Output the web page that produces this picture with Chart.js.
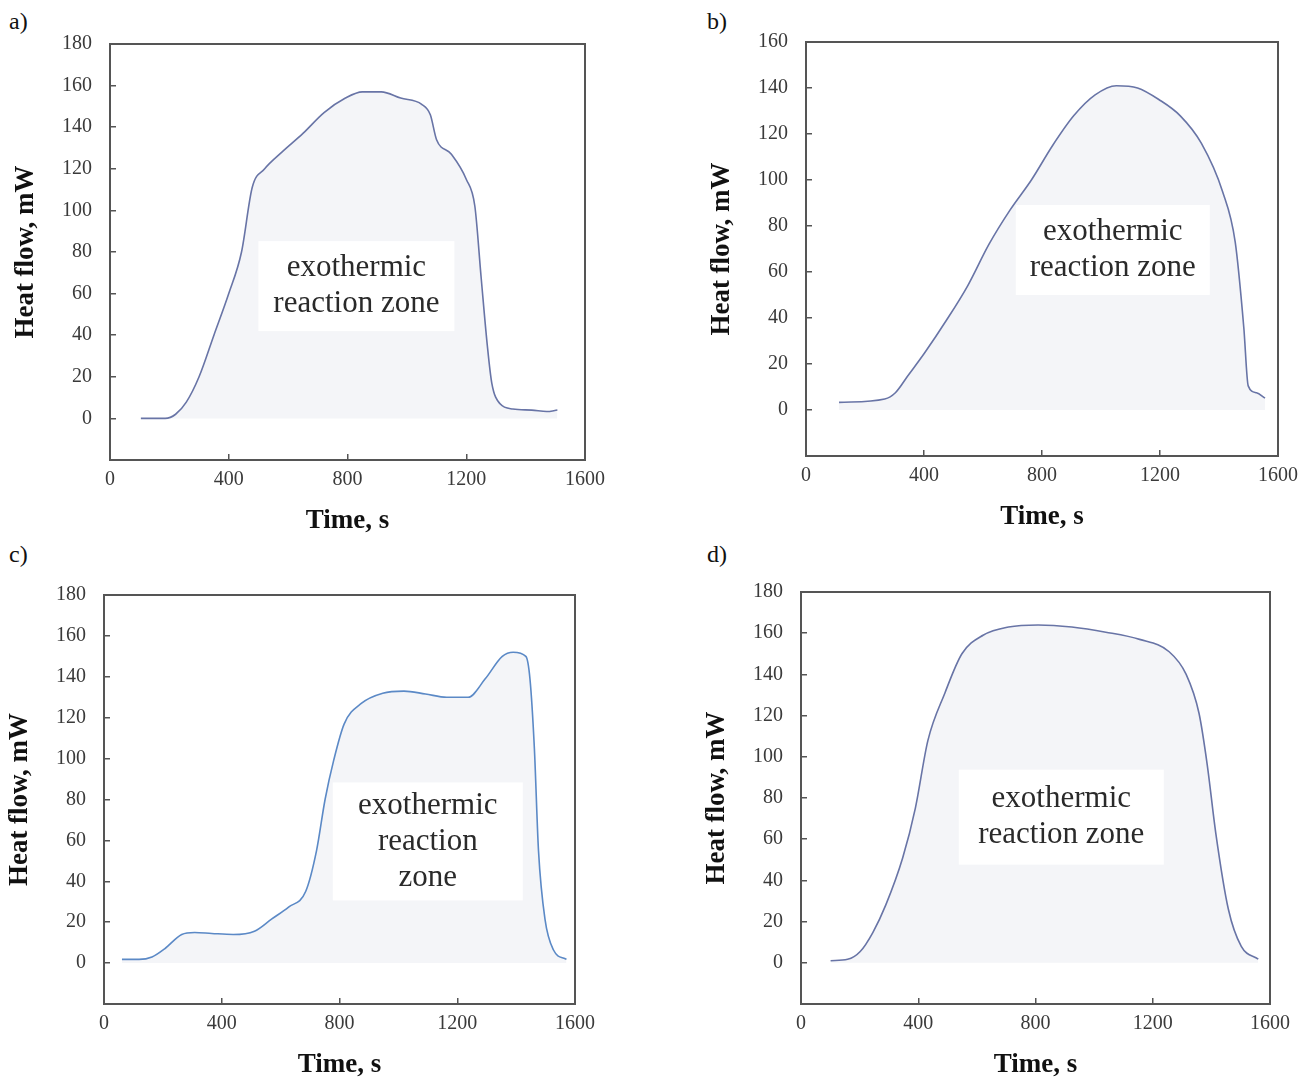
<!DOCTYPE html>
<html>
<head>
<meta charset="utf-8">
<script src="https://cdn.jsdelivr.net/npm/chart.js@4.4.1/dist/chart.umd.min.js"></script>
<style>
  body { margin: 0; background: #fff; width: 1311px; height: 1081px; position: relative; overflow: hidden;
         font-family: "Liberation Serif", "Times New Roman", serif; }
  canvas { position: absolute; }
  .tag { position: absolute; font-size: 24px; color: #111; line-height: 24px; }
</style>
</head>
<body>
<div class="tag" style="left:9px;top:9px">a)</div>
<div class="tag" style="left:707px;top:9px">b)</div>
<div class="tag" style="left:9px;top:542px">c)</div>
<div class="tag" style="left:707px;top:542px">d)</div>
<canvas id="chartA"></canvas>
<canvas id="chartB"></canvas>
<canvas id="chartC"></canvas>
<canvas id="chartD"></canvas>
<script>
// valores (tempo em s, fluxo de calor em mW)
const xTicks = [0, 400, 800, 1200, 1600];
const yTicks180 = [0, 20, 40, 60, 80, 100, 120, 140, 160, 180];
const yTicks160 = [0, 20, 40, 60, 80, 100, 120, 140, 160];

const aTime = [104, 186, 221, 257, 300, 350, 400, 443, 479, 521, 579, 650, 721, 793, 850, 914, 979, 1050, 1079, 1100, 1150, 1200, 1229, 1250, 1271, 1286, 1314, 1357, 1421, 1471, 1507];
const aHeat = [0, 0, 2, 7.8, 20, 40, 60, 80, 111, 120, 128, 137, 147, 154, 157, 157, 154, 151, 146, 134, 127, 115, 102, 68, 35, 17, 7, 4.5, 4, 3.3, 4];

const bTime = [112, 267, 303, 346, 403, 476, 548, 620, 692, 764, 836, 908, 980, 1052, 1124, 1196, 1268, 1340, 1412, 1455, 1484, 1499, 1527, 1556];
const bHeat = [3.3, 4.8, 7.5, 15, 25, 39, 54, 72, 87, 100, 115, 128, 137, 141, 140, 135, 128, 116, 95, 73, 36, 10.5, 7.5, 5.2];

const cTime = [61, 119, 163, 206, 264, 308, 366, 439, 511, 569, 627, 685, 722, 751, 780, 816, 874, 947, 1019, 1092, 1164, 1237, 1295, 1353, 1390, 1433, 1447, 1462, 1476, 1498, 1527, 1571];
const cHeat = [1.8, 1.8, 3, 7, 14, 15, 14.5, 14, 15.6, 21.5, 27.4, 35, 55, 80, 99, 117, 127, 132, 133, 131.6, 130, 130, 139, 150, 152, 150, 139, 105, 55, 21.5, 6.4, 1.8];

const dTime = [101, 159, 202, 245, 289, 347, 390, 433, 491, 549, 621, 708, 809, 924, 1040, 1155, 1256, 1314, 1358, 1386, 1415, 1458, 1502, 1560];
const dHeat = [1, 1.7, 5.5, 14.7, 28, 51, 75, 108, 131, 150, 159, 163, 164, 163, 160.5, 157, 151, 140, 121, 96, 63, 26, 8, 1.8];

const zoneLines2 = ['exothermic', 'reaction zone'];
const zoneLines3 = ['exothermic', 'reaction', 'zone'];

// moldura completa + caixa branca do texto
const framePlugin = {
    id: 'frame',
    afterDatasetsDraw(chart, args, opts) {
        const { ctx, chartArea: a, scales } = chart;
        const z = opts.zone;
        const cx = scales.x.getPixelForValue(z.x);
        const cy = scales.y.getPixelForValue(z.y);
        ctx.save();
        ctx.fillStyle = '#ffffff';
        ctx.fillRect(cx - z.w / 2, cy - z.h / 2, z.w, z.h);
        ctx.fillStyle = '#2a2a2a';
        ctx.font = '31px "Liberation Serif", serif';
        ctx.textAlign = 'center';
        ctx.textBaseline = 'middle';
        const lh = 36;
        const y0 = cy - (z.lines.length - 1) * lh / 2;
        z.lines.forEach((t, i) => ctx.fillText(t, cx, y0 + i * lh));
        ctx.strokeStyle = '#555';
        ctx.lineWidth = 2;
        ctx.strokeRect(a.left, a.top, a.right - a.left, a.bottom - a.top);
        ctx.restore();
    }
};

// tira o espaço extra que as escalas pedem para os rótulos
function semPadding(s) {
    s.paddingTop = 0; s.paddingBottom = 0; s.paddingLeft = 0; s.paddingRight = 0;
}

function criarPainel(id, box, time, heat, yTicks, yMax, cor, zone) {
    const canvas = document.getElementById(id);
    const w = (box.r - box.l) + 130;
    const h = (box.b - box.t) + 110;
    canvas.width = w; canvas.height = h;
    canvas.style.left = (box.l - 100) + 'px';
    canvas.style.top = (box.t - 20) + 'px';
    canvas.style.width = w + 'px';
    canvas.style.height = h + 'px';

    const tickFont = { family: '"Liberation Serif", serif', size: 20 };
    const titleFont = { family: '"Liberation Serif", serif', size: 27, weight: 'bold' };

    new Chart(canvas, {
        type: 'line',
        data: {
            datasets: [{
                data: time.map((t, i) => ({ x: t, y: heat[i] })),
                borderColor: cor,
                borderWidth: 1.6,
                backgroundColor: '#f4f5f8',
                fill: { value: 0 },
                pointRadius: 0,
                cubicInterpolationMode: 'monotone'
            }]
        },
        options: {
            responsive: false,
            animation: false,
            layout: { padding: { top: 20, right: 30, left: 0, bottom: 0 } },
            plugins: {
                legend: { display: false },
                tooltip: { enabled: false },
                frame: { zone: zone }
            },
            scales: {
                x: {
                    type: 'linear', min: 0, max: 1600,
                    afterBuildTicks: s => { s.ticks = xTicks.map(v => ({ value: v })); },
                    afterFit: s => { s.height = 90; semPadding(s); },
                    border: { display: false },
                    grid: { drawOnChartArea: false, drawTicks: true, tickLength: -6, color: '#555', lineWidth: 1.5 },
                    ticks: { font: tickFont, color: '#3a3a3a', padding: 14, maxRotation: 0, callback: v => String(v) },
                    title: { display: true, text: 'Time, s', font: titleFont, color: '#111', padding: { top: 0, bottom: 13 } }
                },
                y: {
                    min: -20, max: yMax,
                    afterBuildTicks: s => { s.ticks = yTicks.map(v => ({ value: v })); },
                    afterFit: s => { s.width = 100; semPadding(s); },
                    border: { display: false },
                    grid: { drawOnChartArea: false, drawTicks: true, tickLength: -6, color: '#555', lineWidth: 1.5 },
                    ticks: { font: tickFont, color: '#3a3a3a', padding: 24, callback: v => String(v) },
                    title: { display: true, text: 'Heat flow, mW', font: titleFont, color: '#111', padding: { top: 0, bottom: 0 } }
                }
            }
        },
        plugins: [framePlugin]
    });
}

criarPainel('chartA', { l: 110, t: 44, r: 585, b: 460 }, aTime, aHeat, yTicks180, 180, '#6874a6',
    { x: 830, y: 63.6, w: 196, h: 90, lines: zoneLines2 });
criarPainel('chartB', { l: 806, t: 42, r: 1278, b: 456 }, bTime, bHeat, yTicks160, 160, '#6874a6',
    { x: 1040, y: 69.6, w: 194, h: 90, lines: zoneLines2 });
criarPainel('chartC', { l: 104, t: 595, r: 575, b: 1004 }, cTime, cHeat, yTicks180, 180, '#5b89c6',
    { x: 1100, y: 59.5, w: 190, h: 118, lines: zoneLines3 });
criarPainel('chartD', { l: 801, t: 592, r: 1270, b: 1004 }, dTime, dHeat, yTicks180, 180, '#6874a6',
    { x: 888, y: 70.7, w: 205, h: 95, lines: zoneLines2 });
</script>
</body>
</html>
